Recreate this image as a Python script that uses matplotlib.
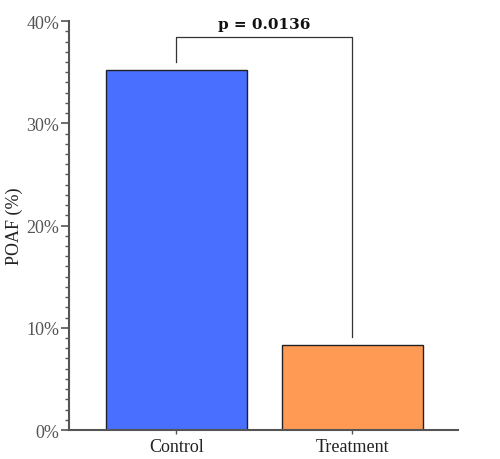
import matplotlib
matplotlib.use("Agg")
import matplotlib.pyplot as plt
from matplotlib.ticker import MultipleLocator, FuncFormatter

groups = ["Control", "Treatment"]
poaf = [35.2, 8.3]
bar_colors = ["#486fff", "#ff9a55"]
p_label = "p = 0.0136"

plt.rcParams['font.family'] = ['Liberation Serif', 'DejaVu Serif']

fig = plt.figure(figsize=(5, 4.6), dpi=100)
ax = fig.add_axes([0.138, 0.063, 0.778, 0.889])

x = list(range(len(groups)))
ax.bar(x, poaf, width=0.8, color=bar_colors, edgecolor="#222222", linewidth=1.0, zorder=2)

# significance bracket
y_top = 38.4
ax.plot([0, 0, 1, 1], [36.0, y_top, y_top, poaf[1] + 0.8], color="#333333", linewidth=0.9)
ax.text(0.5, y_top + 0.6, p_label, ha="center", va="bottom", fontsize=11,
        fontweight="bold", family=["DejaVu Serif"], color="#111111")

ax.set_xlim(-0.61, 1.60)
ax.set_ylim(0, 40)
ax.set_xticks(x)
ax.set_xticklabels(groups)
ax.yaxis.set_major_locator(MultipleLocator(10))
ax.yaxis.set_minor_locator(MultipleLocator(1))
ax.yaxis.set_major_formatter(FuncFormatter(lambda v, pos: "%d%%" % v))
ax.set_ylabel("POAF (%)", fontsize=13, color="#222222", labelpad=2)

for s in ["top", "right"]:
    ax.spines[s].set_visible(False)
for s in ["left", "bottom"]:
    ax.spines[s].set_color("#555555")
    ax.spines[s].set_linewidth(1.5)

ax.tick_params(axis="y", which="major", length=6, width=1.2, color="#555555",
               labelsize=13, labelcolor="#555555", pad=1)
ax.tick_params(axis="y", which="minor", length=3, width=1.0, color="#555555")
ax.tick_params(axis="x", length=3, width=1.0, color="#555555",
               labelsize=13, labelcolor="#222222", pad=3)

fig.savefig("out.png", dpi=100)
